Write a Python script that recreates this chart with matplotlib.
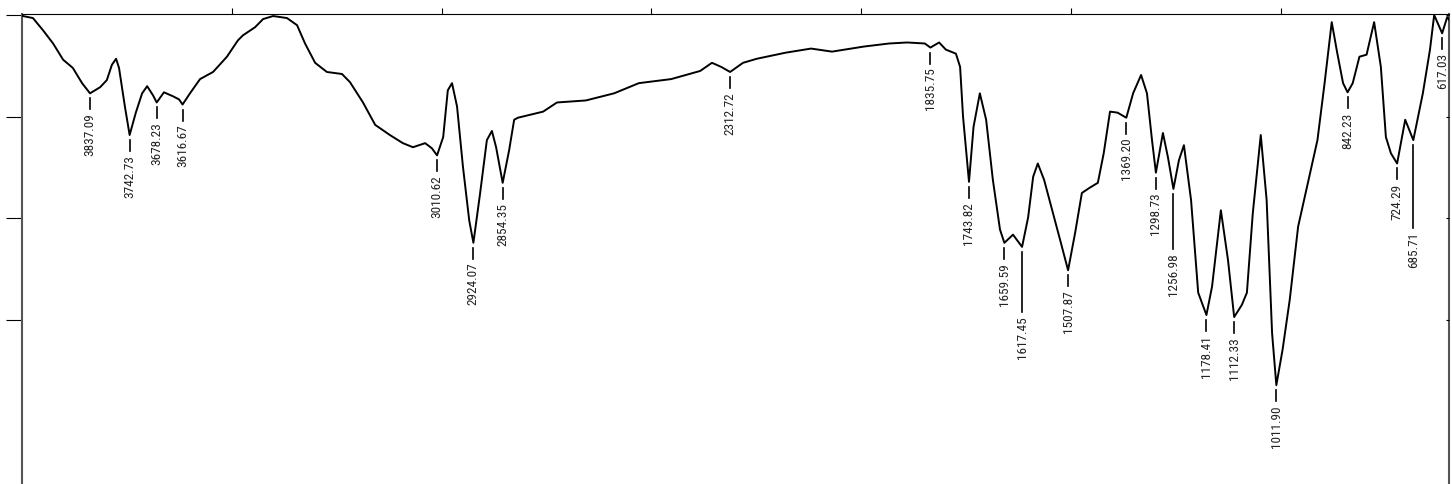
import numpy as np
import matplotlib
matplotlib.use("Agg")
import matplotlib.pyplot as plt
import matplotlib.font_manager as fm

# IR spectrum, wavenumber (cm-1) vs transmittance (%T)
wavenumber = [3999, 3997, 3973, 3949, 3925, 3901, 3878, 3856, 3837.09, 3813,
              3797, 3785, 3775, 3768, 3754, 3742.73, 3728, 3713, 3701, 3687,
              3678.23, 3661, 3639, 3625, 3616.67, 3599, 3575, 3544, 3511, 3485,
              3473, 3444, 3425, 3401, 3368, 3344, 3325, 3301, 3273, 3237,
              3218, 3187, 3158, 3123, 3092, 3068, 3039, 3023, 3010.62, 2996,
              2985, 2975, 2963, 2949, 2934, 2924.07, 2908, 2892, 2880, 2870,
              2854.35, 2839, 2827, 2818, 2758, 2725, 2656, 2589, 2530, 2453,
              2384, 2356, 2334, 2312.72, 2282, 2249, 2180, 2120, 2070, 1994,
              1934, 1891, 1849, 1835.75, 1815, 1799, 1775, 1765, 1758, 1750,
              1743.82, 1733, 1718, 1703, 1687, 1670, 1659.59, 1639, 1617.45, 1603,
              1591, 1580, 1565, 1541, 1525, 1507.87, 1491, 1475, 1457, 1437,
              1423, 1408, 1390, 1369.20, 1353, 1334, 1320, 1308, 1298.73, 1282,
              1270, 1256.98, 1244, 1232, 1215, 1198, 1178.41, 1165, 1144, 1127,
              1112.33, 1094, 1082, 1068, 1049, 1035, 1022, 1011.90, 997, 980,
              960, 939, 914, 897, 880, 867, 853, 842.23, 830, 814,
              797, 779, 763, 751, 739, 724.29, 705, 685.71, 663, 646,
              636, 617.03, 605, 600]
transmittance = [100.0, 99.9, 99.7, 98.5, 97.2, 95.6, 94.8, 93.3, 92.3, 92.9,
                 93.6, 95.1, 95.7, 94.8, 91.0, 88.2, 90.4, 92.3, 93.0, 92.1,
                 91.4, 92.4, 92.0, 91.7, 91.2, 92.3, 93.7, 94.4, 95.9, 97.5,
                 98.0, 98.8, 99.6, 99.9, 99.7, 99.0, 97.2, 95.3, 94.4, 94.2,
                 93.4, 91.4, 89.2, 88.2, 87.4, 87.0, 87.4, 86.9, 86.2, 88.0,
                 92.6, 93.3, 91.0, 85.1, 79.8, 77.6, 82.5, 87.7, 88.6, 87.0,
                 83.5, 86.7, 89.7, 89.9, 90.5, 91.4, 91.6, 92.3, 93.3, 93.7,
                 94.5, 95.3, 94.9, 94.4, 95.3, 95.7, 96.3, 96.7, 96.4, 96.9,
                 97.2, 97.3, 97.2, 96.8, 97.3, 96.6, 96.2, 94.9, 90.0, 86.4,
                 83.6, 89.0, 92.3, 89.7, 83.8, 78.9, 77.6, 78.4, 77.2, 80.1,
                 84.1, 85.4, 83.8, 80.1, 77.6, 74.9, 78.6, 82.5, 83.0, 83.5,
                 86.4, 90.5, 90.4, 89.9, 92.3, 94.1, 92.3, 87.7, 84.5, 88.4,
                 86.0, 82.9, 85.7, 87.2, 81.8, 72.7, 70.5, 73.3, 80.8, 75.9,
                 70.3, 71.5, 72.7, 80.5, 88.2, 81.8, 68.7, 63.6, 67.1, 72.0,
                 79.2, 83.1, 87.7, 93.3, 99.3, 96.3, 93.3, 92.4, 93.3, 95.9,
                 96.1, 99.3, 94.9, 88.0, 86.4, 85.4, 89.7, 87.7, 92.3, 96.6,
                 100.0, 98.2, 99.8, 99.5]

# labelled band positions
peaks = [3837.09, 3742.73, 3678.23, 3616.67, 3010.62, 2924.07, 2854.35,
         2312.72, 1835.75, 1743.82, 1659.59, 1617.45, 1507.87, 1369.20,
         1298.73, 1256.98, 1178.41, 1112.33, 1011.90, 842.23, 724.29,
         685.71, 617.03]
# leader length in pixels (longer where labels would collide)
leader = {1617.45: 60, 1256.98: 55, 685.71: 83}

installed = {f.name for f in fm.fontManager.ttflist}
label_font = next(f for f in ["Arial Narrow", "Liberation Sans Narrow",
                              "Roboto Condensed", "PT Sans Narrow",
                              "Archivo Narrow", "Sofia Sans Condensed",
                              "Liberation Sans", "DejaVu Sans"]
                  if f in installed)

W, H = 1452, 484
fig = plt.figure(figsize=(W / 100, H / 100), dpi=100)
ax = fig.add_axes([21.6 / W, 1 - 494 / H, (1449.3 - 21.6) / W, 480 / H])

ax.plot(wavenumber, transmittance, color="black", lw=1.4, zorder=3)
ax.set_xlim(4000, 600)
ax.set_ylim(52.9, 100.1)

ax.xaxis.tick_top()
ax.set_xticks([3500, 3000, 2500, 2000, 1500, 1000])
ax.set_yticks([70, 80, 90, 100])
ax.tick_params(axis="x", direction="out", length=4.3, width=0.8,
               labeltop=False, labelbottom=False, color="black")
ax.tick_params(axis="y", direction="out", length=11.5, width=0.8,
               labelleft=False, color="black")

ax.spines["bottom"].set_visible(False)
ax.spines["top"].set_linewidth(0.8)
for side in ("left", "right"):
    ax.spines[side].set_linewidth(1.5)
    ax.spines[side].set_color("#555555")

# short inward ticks on the right edge
ax2 = ax.twinx()
ax2.set_ylim(ax.get_ylim())
ax2.set_yticks([70, 80, 90, 100])
ax2.tick_params(axis="y", direction="in", length=2.5, width=0.8,
                labelright=False)
for s in ax2.spines.values():
    s.set_visible(False)

to_px = ax.transData.transform
to_data = ax.transData.inverted().transform

wn_arr = np.array(wavenumber)
t_arr = np.array(transmittance)
for p in peaks:
    t = t_arr[np.argmin(np.abs(wn_arr - p))]
    px, py = to_px((p, t))
    L = leader.get(p, 11)
    y0 = py - 5
    y1 = y0 - L
    (xa, ya), (xb, yb) = to_data([(px, y0), (px, y1)])
    ax.plot([xa, xb], [ya, yb], color="black", lw=1.2, clip_on=False)
    tx, ty = to_data((px, y1 - 4))
    ax.text(tx, ty, f"{p:.2f}", rotation=90, ha="center", va="top",
            fontsize=9.5, color="#222222", family=label_font, clip_on=True)

fig.savefig("out.png", dpi=100)
